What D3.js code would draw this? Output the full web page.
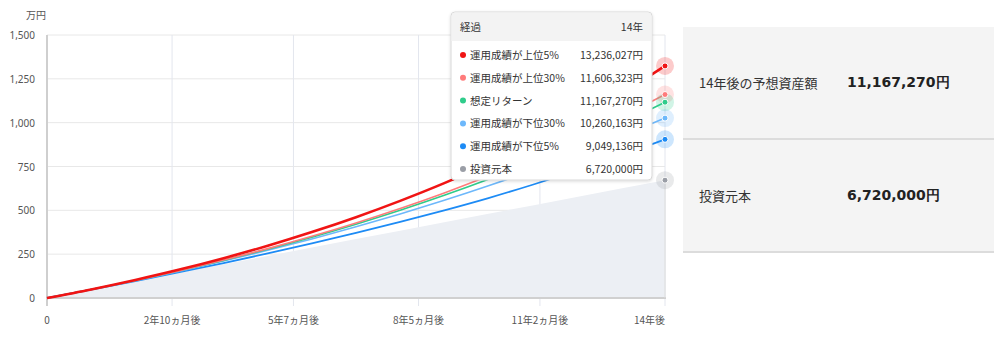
<!DOCTYPE html>
<html>
<head>
<meta charset="utf-8">
<script src="https://cdn.jsdelivr.net/npm/d3@7"></script>
<style>
  body { margin: 0; background: #fff; font-family: "Noto Sans CJK JP", "Noto Sans", sans-serif; }
  #wrap { position: relative; width: 1000px; height: 337px; overflow: hidden; }
  svg { position: absolute; left: 0; top: 0; }
  .panel { position: absolute; left: 683px; width: 311px; background: #f4f4f4; color: #333; }
  .panel .lab { position: absolute; left: 16px; font-size: 13px; }
  .panel .val { position: absolute; left: 164px; font-size: 14px; font-weight: bold; color: #222;
    font-family: "DejaVu Sans", Verdana, sans-serif; }
</style>
</head>
<body>
<div id="wrap">
  <svg id="chart" width="1000" height="337"></svg>
</div>
<script>
// months from start (yearly points)
const months = [0, 12, 24, 36, 48, 60, 72, 84, 96, 108, 120, 132, 144, 156, 168];

// 万円
const top5 = [0, 49, 103, 162, 227, 298, 376, 461, 554, 655, 766, 887, 1019, 1163, 1323.6];
const top30 = [0, 48.0, 99.8, 155.8, 216.3, 281.6, 352.1, 428.3, 510.5, 599.4, 695.3, 799.0, 910.9, 1031.8, 1160.6];
const expected = [0, 48.0, 99.5, 155.0, 214.6, 278.6, 347.3, 421.2, 500.6, 585.9, 677.5, 776.0, 881.8, 995.6, 1116.7];
const bottom30 = [0, 48.0, 99.0, 153.2, 210.7, 271.9, 336.9, 405.9, 479.4, 557.3, 640.1, 728.1, 821.7, 921.1, 1026.0];
const bottom5 = [0, 47.5, 96.5, 147.0, 199.5, 254.0, 311.0, 371.0, 434.0, 500.0, 570.0, 646.0, 727.0, 813.0, 904.9];
const principal = [0, 48, 96, 144, 192, 240, 288, 336, 384, 432, 480, 528, 576, 624, 672];

const seriesNames = ["運用成績が上位5%", "運用成績が上位30%", "想定リターン", "運用成績が下位30%", "運用成績が下位5%", "投資元本"];
const seriesColors = ["#f01414", "#ff7b7b", "#2fcc8b", "#6db8fb", "#1d8bf5", "#9a9ea6"];
const seriesWidths = [2.6, 1.6, 1.6, 1.6, 1.8];
const tooltipValues = ["13,236,027円", "11,606,323円", "11,167,270円", "10,260,163円", "9,049,136円", "6,720,000円"];

const yTicks = [0, 250, 500, 750, 1000, 1250, 1500];
const xTickMonths = [0, 34, 67, 101, 134, 168];
const xTickLabels = ["0", "2年10ヵ月後", "5年7ヵ月後", "8年5ヵ月後", "11年2ヵ月後", "14年後"];

const panelLabels = ["14年後の予想資産額", "投資元本"];
const panelValues = ["11,167,270円", "6,720,000円"];

const svg = d3.select("#chart");
const area = { left: 47, right: 665, top: 35, bottom: 298 };

const scaleX = d3.scaleLinear().domain([0, 168]).range([area.left, area.right]);
const scaleY = d3.scaleLinear().domain([0, 1500]).range([area.bottom, area.top]);

// grid
svg.append("g")
    .selectAll("line")
    .data(yTicks)
    .enter()
    .append("line")
    .attr("x1", area.left).attr("x2", area.right)
    .attr("y1", d => scaleY(d)).attr("y2", d => scaleY(d))
    .attr("stroke", "#e8e8e8").attr("stroke-width", 1);

svg.append("g")
    .selectAll("line")
    .data(xTickMonths.slice(1))
    .enter()
    .append("line")
    .attr("x1", d => scaleX(d)).attr("x2", d => scaleX(d))
    .attr("y1", area.top).attr("y2", area.bottom + 8)
    .attr("stroke", "#e3e6ee").attr("stroke-width", 1);

// principal area
const areaGen = d3.area()
    .x((d, i) => scaleX(months[i]))
    .y0(area.bottom)
    .y1(d => scaleY(d));

svg.append("path")
    .datum(principal)
    .attr("d", areaGen)
    .attr("fill", "#eceff4");

// axes lines
svg.append("line")
    .attr("x1", area.left).attr("x2", area.left)
    .attr("y1", area.top).attr("y2", area.bottom + 8)
    .attr("stroke", "#cfcfcf").attr("stroke-width", 2);
svg.append("line")
    .attr("x1", area.left).attr("x2", area.right + 1)
    .attr("y1", area.bottom).attr("y2", area.bottom)
    .attr("stroke", "#d0d0d0").attr("stroke-width", 2);
svg.append("line")
    .attr("x1", area.right).attr("x2", area.right)
    .attr("y1", scaleY(672)).attr("y2", area.bottom)
    .attr("stroke", "#dcdcdc").attr("stroke-width", 1);

// y labels
svg.append("g")
    .selectAll("text")
    .data(yTicks)
    .enter()
    .append("text")
    .attr("x", 35)
    .attr("y", d => scaleY(d) + 4)
    .attr("text-anchor", "end")
    .attr("font-size", 10)
    .attr("fill", "#555")
    .attr("font-family", "'Noto Sans', sans-serif")
    .text(d => d3.format(",")(d));

svg.append("text")
    .attr("x", 26).attr("y", 19)
    .attr("font-size", 10).attr("fill", "#555")
    .text("万円");

// x labels
svg.append("g")
    .selectAll("text")
    .data(xTickMonths)
    .enter()
    .append("text")
    .attr("x", d => scaleX(d))
    .attr("y", 324)
    .attr("text-anchor", (d, i) => i === xTickMonths.length - 1 ? "end" : "middle")
    .attr("font-size", 10)
    .attr("fill", "#555")
    .text((d, i) => xTickLabels[i]);

// lines
const lineGen = d3.line()
    .x((d, i) => scaleX(months[i]))
    .y(d => scaleY(d))
    .curve(d3.curveMonotoneX);

const lineData = [top5, top30, expected, bottom30, bottom5];
// draw from bottom to top so red sits on top
for (let k = lineData.length - 1; k >= 0; k--) {
    svg.append("path")
        .datum(lineData[k])
        .attr("d", lineGen)
        .attr("fill", "none")
        .attr("stroke", seriesColors[k])
        .attr("stroke-width", seriesWidths[k]);
}

// end markers
const endData = [...lineData, principal].map((s, i) => ({ v: s[s.length - 1], c: seriesColors[i] }));
const markers = svg.append("g");
markers.selectAll("circle.halo")
    .data(endData)
    .enter()
    .append("circle")
    .attr("class", "halo")
    .attr("cx", scaleX(168))
    .attr("cy", d => scaleY(d.v))
    .attr("r", 9)
    .attr("fill", d => d.c)
    .attr("fill-opacity", 0.22);
markers.selectAll("circle.dot")
    .data(endData)
    .enter()
    .append("circle")
    .attr("class", "dot")
    .attr("cx", scaleX(168))
    .attr("cy", d => scaleY(d.v))
    .attr("r", 3)
    .attr("fill", d => d.c)
    .attr("stroke", "#fff")
    .attr("stroke-width", 1);

// tooltip
const defs = svg.append("defs");
const filter = defs.append("filter").attr("id", "shadow").attr("x", "-10%").attr("y", "-10%").attr("width", "120%").attr("height", "120%");
filter.append("feDropShadow").attr("dx", 0).attr("dy", 1).attr("stdDeviation", 1.5).attr("flood-color", "#000").attr("flood-opacity", 0.15);

const tip = svg.append("g").attr("transform", "translate(451,12)");
const tipW = 201, tipH = 168;
tip.append("rect")
    .attr("width", tipW).attr("height", tipH)
    .attr("rx", 4)
    .attr("fill", "#fff")
    .attr("stroke", "#d8d8d8")
    .attr("filter", "url(#shadow)");
tip.append("path")
    .attr("d", `M0.5,29 V4.5 Q0.5,0.5 4.5,0.5 H${tipW - 4.5} Q${tipW - 0.5},0.5 ${tipW - 0.5},4.5 V29 Z`)
    .attr("fill", "#f3f3f3");
tip.append("text")
    .attr("x", 9).attr("y", 19)
    .attr("font-size", 10.5).attr("fill", "#333")
    .text("経過");
tip.append("text")
    .attr("x", tipW - 9).attr("y", 19)
    .attr("text-anchor", "end")
    .attr("font-size", 10.5).attr("fill", "#333")
    .text("14年");

const rows = tip.append("g")
    .selectAll("g")
    .data(seriesNames)
    .enter()
    .append("g")
    .attr("transform", (d, i) => `translate(0, ${43 + i * 22.8})`);
rows.append("circle")
    .attr("cx", 12).attr("cy", 0).attr("r", 3)
    .attr("fill", (d, i) => seriesColors[i]);
rows.append("text")
    .attr("x", 19).attr("y", 4)
    .attr("font-size", 10.5).attr("fill", "#333")
    .text(d => d);
rows.append("text")
    .attr("x", tipW - 9).attr("y", 4)
    .attr("text-anchor", "end")
    .attr("font-size", 10.5).attr("fill", "#333")
    .text((d, i) => tooltipValues[i]);

// right panel
const wrap = d3.select("#wrap");
const panel = wrap.selectAll("div.panel")
    .data(panelLabels)
    .enter()
    .append("div")
    .attr("class", "panel")
    .style("top", (d, i) => (27 + i * 113) + "px")
    .style("height", "111px")
    .style("border-bottom", "2px solid #dcdcdc");
panel.append("div")
    .attr("class", "lab")
    .style("top", "46px")
    .text(d => d);
panel.append("div")
    .attr("class", "val")
    .style("top", "47px")
    .text((d, i) => panelValues[i]);
</script>
</body>
</html>
